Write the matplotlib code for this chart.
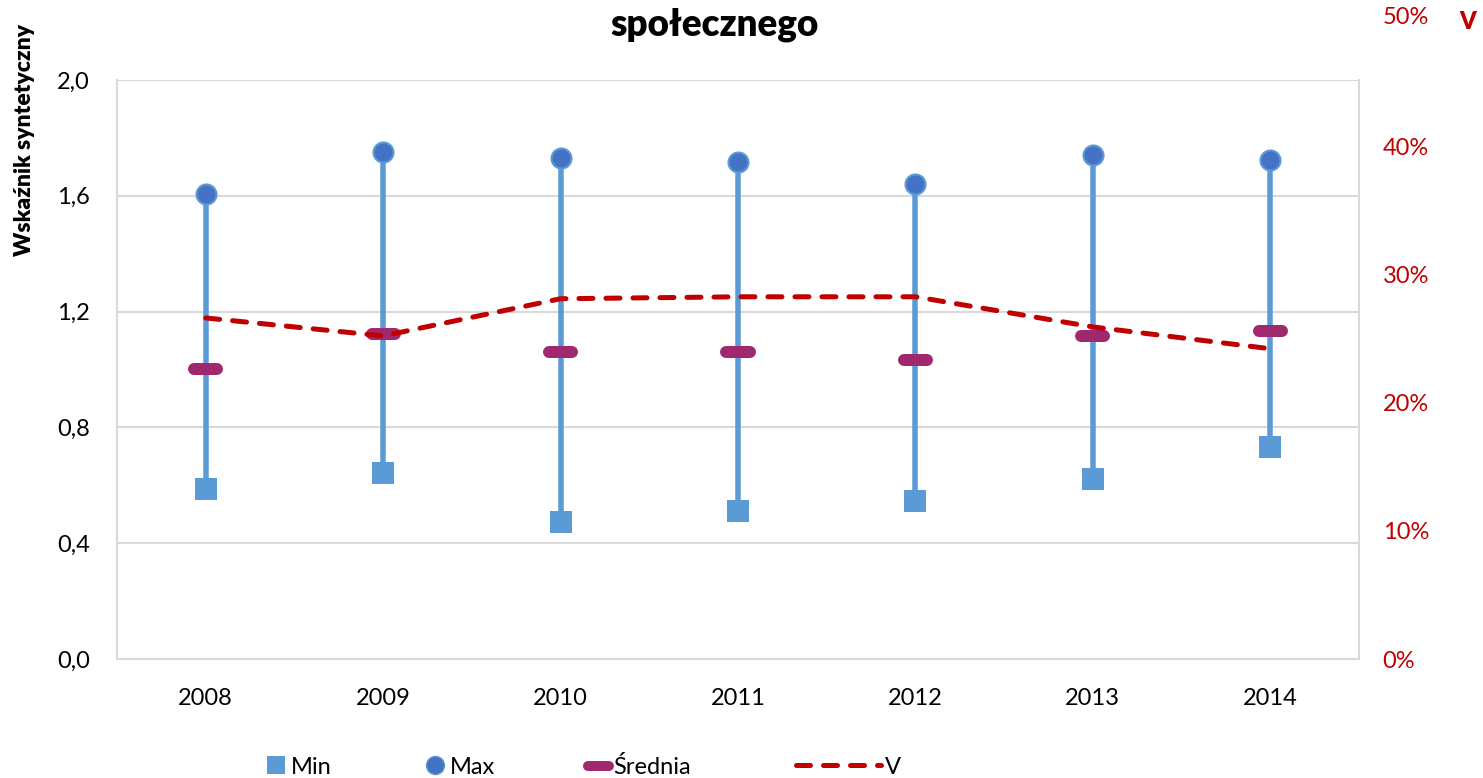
import matplotlib
matplotlib.use("Agg")
import matplotlib.pyplot as plt
from matplotlib.lines import Line2D
from matplotlib.transforms import blended_transform_factory
import numpy as np

plt.rcParams['font.family'] = ['Lato', 'DejaVu Sans']

years = ["2008", "2009", "2010", "2011", "2012", "2013", "2014"]
v_min = [0.587, 0.642, 0.473, 0.511, 0.546, 0.622, 0.732]
v_max = [1.606, 1.751, 1.730, 1.717, 1.641, 1.741, 1.724]
v_mean = [1.002, 1.123, 1.060, 1.060, 1.033, 1.116, 1.133]
v_coef = [0.266, 0.252, 0.281, 0.2825, 0.2825, 0.259, 0.242]

left_ticks = [0.0, 0.4, 0.8, 1.2, 1.6, 2.0]
left_labels = ["0,0", "0,4", "0,8", "1,2", "1,6", "2,0"]
right_ticks = [0.0, 0.1, 0.2, 0.3, 0.4]
right_labels = ["0%", "10%", "20%", "30%", "40%"]

C_STEM = "#5B9BD5"
C_MAX = "#4472C4"
C_MEAN = "#A0286F"
C_V = "#C00000"
C_GRID = "#D9D9D9"

W, H = 1483, 778
fig = plt.figure(figsize=(W / 100, H / 100), dpi=100)
ax = fig.add_axes([117 / W, 1 - 659 / H, (1359 - 117) / W, (659 - 80) / H])

x = np.arange(len(years))
px = 72 / 100  # points per pixel

ax.vlines(x, v_min, v_max, color=C_STEM, lw=5.5 * px, zorder=2)
ax.plot(x, v_min, ls="none", marker="s", ms=23 * px, mfc=C_STEM, mec=C_STEM, mew=0, zorder=3)
ax.plot(x, v_max, ls="none", marker="o", ms=20 * px, mfc=C_MAX, mec=C_STEM, mew=1.5, zorder=3)
ax.hlines(v_mean, x - 0.065, x + 0.065, color=C_MEAN, lw=12 * px, capstyle="round", zorder=4)

ax.set_xlim(-0.5, len(years) - 0.5)
ax.set_ylim(0, 2.0)
ax.set_yticks(left_ticks)
ax.set_yticklabels(left_labels)
ax.set_xticks(x)
ax.set_xticklabels(years)
ax.tick_params(axis="y", length=0, pad=19.5, labelsize=17, labelcolor="black")
ax.tick_params(axis="x", length=0, pad=21, labelsize=17, labelcolor="black")
ax.grid(axis="y", color=C_GRID, lw=1.5)
ax.set_axisbelow(True)
for s in ["left", "right", "bottom"]:
    ax.spines[s].set_color(C_GRID)
    ax.spines[s].set_linewidth(1.5)
ax.spines["top"].set_visible(False)

ax2 = ax.twinx()
ax2.plot(x, v_coef, color=C_V, lw=5 * px, dashes=(2.8, 2.6), dash_capstyle="round", zorder=5)
ax2.set_ylim(0, 0.4516)
ax2.set_yticks(right_ticks)
ax2.set_yticklabels(right_labels)
ax2.tick_params(axis="y", length=0, pad=17, labelsize=17, labelcolor=C_V)
for s in ["left", "right", "bottom", "top"]:
    ax2.spines[s].set_visible(False)

# 50% label above the plot area, on the right-axis scale
tr = blended_transform_factory(fig.transFigure, ax2.transData)
ax2.text(1383 / W, 0.5, "50%", transform=tr, ha="left", va="center", fontsize=17,
         color=C_V, clip_on=False)
fig.text(1468 / W, 1 - 22 / H, "V", ha="center", va="center", fontsize=17,
         fontweight="heavy", color=C_V)

fig.text(715 / W, 1 - 25 / H, "społecznego", ha="center", va="center", fontsize=26.5,
         fontweight="heavy")
fig.text(25 / W, 1 - 140 / H, "Wskaźnik syntetyczny", ha="center", va="center",
         rotation=90, fontsize=16.5, fontweight="heavy")

# legend
entries = [
    (Line2D([], [], ls="none", marker="s", ms=18 * px, mfc=C_STEM, mec=C_STEM, mew=0), "Min", 264, 1.0),
    (Line2D([], [], ls="none", marker="o", ms=18 * px, mfc=C_MAX, mec=C_STEM, mew=1.0), "Max", 423, 1.0),
    (Line2D([], [], color=C_MEAN, lw=10 * px, solid_capstyle="round"), "Średnia", 588, 0.9),
    (Line2D([], [], color=C_V, lw=5 * px, dashes=(2.8, 2.6), dash_capstyle="round"), "V", 796, 3.6),
]
for h, lab, xpos, hl in entries:
    fig.legend([h], [lab], loc="center left", bbox_to_anchor=(xpos / W, 11 / H),
               frameon=False, fontsize=17, handlelength=hl, handletextpad=0.15,
               borderaxespad=0, borderpad=0)

fig.savefig("out.png", dpi=100)
